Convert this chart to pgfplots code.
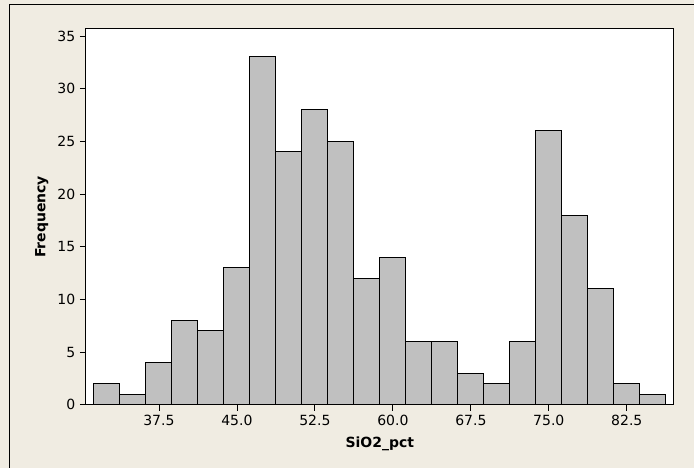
\documentclass[border=0pt]{standalone}
\usepackage{fontspec}
\setmainfont{DejaVu Sans}
\usepackage{pgfplots}
\pgfplotsset{compat=1.18}
\definecolor{bgbeige}{RGB}{240,236,226}
\definecolor{barfill}{RGB}{192,192,192}
\begin{document}
\begin{tikzpicture}[x=0.75pt,y=0.75pt]
\fill[bgbeige] (0,0) rectangle (694,468);
\draw[line width=0.75pt] (10,0) -- (10,463) -- (694,463);
\begin{axis}[
  at={(86*0.75pt,63*0.75pt)}, anchor=south west,
  scale only axis,
  width=441.2pt, height=282pt,
  xmin=30.48, xmax=87.02,
  ymin=0, ymax=35.66,
  axis background/.style={fill=white},
  axis line style={line width=0.75pt},
  xtick={37.5,45,52.5,60,67.5,75,82.5},
  ytick={0,5,10,15,20,25,30,35},
  xmajorgrids=false, ymajorgrids=false,
  tick align=outside,
  tick pos=left,
  major tick length=4.5pt,
  tick style={line width=0.6pt,black},
  xticklabel style={/pgf/number format/.cd,fixed,fixed zerofill,precision=1},
  /pgf/number format/assume math mode=true,
  ticklabel style={font=\fontsize{10.5}{12}\selectfont},
  xlabel={\textbf{SiO2\_pct}},
  ylabel={\textbf{Frequency}},
  label style={font=\fontsize{10.5}{12}\selectfont},
  xlabel style={yshift=-1.5pt},
  ylabel style={yshift=0pt},
]
\addplot[ybar interval, fill=barfill, draw=black, line width=0.75pt] coordinates {
(31.25,2) (33.75,1) (36.25,4) (38.75,8) (41.25,7) (43.75,13)
(46.25,33) (48.75,24) (51.25,28) (53.75,25) (56.25,12) (58.75,14)
(61.25,6) (63.75,6) (66.25,3) (68.75,2) (71.25,6) (73.75,26)
(76.25,18) (78.75,11) (81.25,2) (83.75,1) (86.25,1)
};
\end{axis}
\end{tikzpicture}
\end{document}
